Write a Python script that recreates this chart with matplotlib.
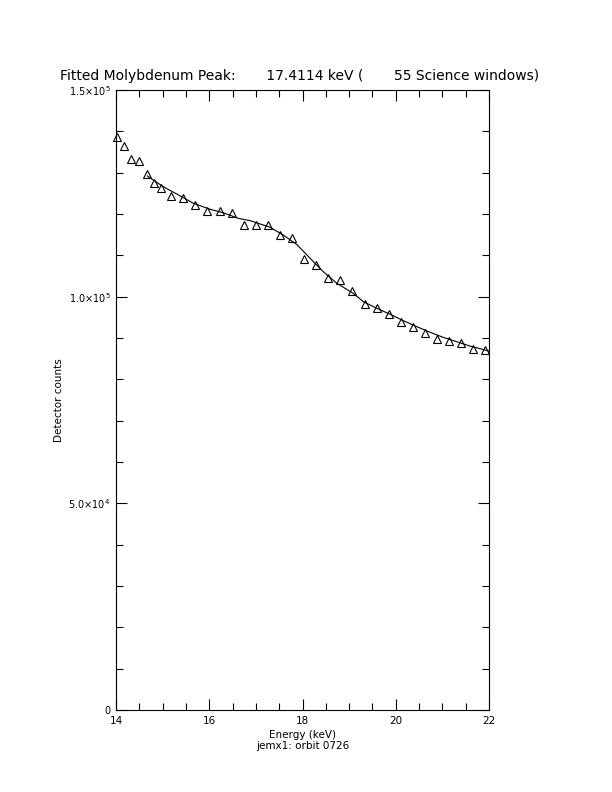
import numpy as np
import matplotlib.pyplot as plt
from matplotlib.ticker import MultipleLocator, FixedLocator

# measured points (energy in keV, detector counts)
energy = [14.028, 14.178, 14.328, 14.500, 14.658, 14.809, 14.972, 15.186,
          15.437, 15.701, 15.958, 16.224, 16.482, 16.739, 16.996, 17.254,
          17.511, 17.769, 18.032, 18.290, 18.547, 18.804, 19.072, 19.334,
          19.592, 19.849, 20.106, 20.364, 20.627, 20.885, 21.142, 21.399,
          21.663, 21.914]
counts = [138700, 136450, 133300, 132750, 129700, 127600, 126350, 124300,
          123950, 122250, 120800, 120800, 120250, 117350, 117250, 117250,
          115000, 114250, 109200, 107750, 104450, 104100, 101400, 98150,
          97350, 95750, 93950, 92650, 91200, 89850, 89350, 88850,
          87400, 87000]

# fitted curve
fit_e = [14.671, 15.014, 15.302, 15.658, 16.016, 16.301, 16.623, 16.874,
         17.303, 17.588, 17.876, 18.161, 18.446, 18.734, 19.090, 19.304,
         19.592, 19.877, 20.162, 20.449, 20.735, 21.020, 21.308, 21.592, 22.0]
fit_c = [129200, 126600, 124850, 122600, 121150, 120300, 118950, 118400,
         116800, 114900, 112650, 109300, 106050, 103250, 100800, 98800,
         97200, 95750, 94200, 92750, 91400, 90150, 89100, 88050, 86850]

ytick_vals = [0, 50000, 100000, 150000]
ytick_labels = ['0', r'5.0$\times$10$^4$', r'1.0$\times$10$^5$', r'1.5$\times$10$^5$']

fig = plt.figure(figsize=(6.12, 7.92), dpi=100)
ax = fig.add_axes([116/612, 1 - 710/792, (489-116)/612, (710-90)/792])

ax.plot(fit_e, fit_c, color='black', linewidth=0.8)
ax.plot(energy, counts, linestyle='none', marker='^', markersize=6,
        markerfacecolor='none', markeredgecolor='black', markeredgewidth=0.8,
        clip_on=False)

ax.set_xlim(14, 22)
ax.set_ylim(0, 150000)
ax.xaxis.set_major_locator(MultipleLocator(2))
ax.xaxis.set_minor_locator(MultipleLocator(0.5))
ax.yaxis.set_major_locator(FixedLocator(ytick_vals))
ax.yaxis.set_minor_locator(MultipleLocator(10000))
ax.set_yticklabels(ytick_labels)

ax.tick_params(which='both', direction='in', top=True, right=True,
               width=0.8, colors='black')
ax.tick_params(axis='x', labelsize=7.5)
ax.tick_params(axis='y', labelsize=7)
ax.tick_params(which='major', length=8, pad=4)
ax.tick_params(which='minor', length=5)
for s in ax.spines.values():
    s.set_linewidth(0.8)

ax.set_xlabel('Energy (keV)\njemx1: orbit 0726', fontsize=7.5, labelpad=3,
              linespacing=1.1)
ax.set_ylabel('Detector counts', fontsize=7.5)
ax.yaxis.set_label_coords(-0.14, 0.5)
fig.text(300/612, 1 - 76/792,
         'Fitted Molybdenum Peak:       17.4114 keV (       55 Science windows)',
         ha='center', va='center', fontsize=10)

fig.savefig('out.png', dpi=100)
